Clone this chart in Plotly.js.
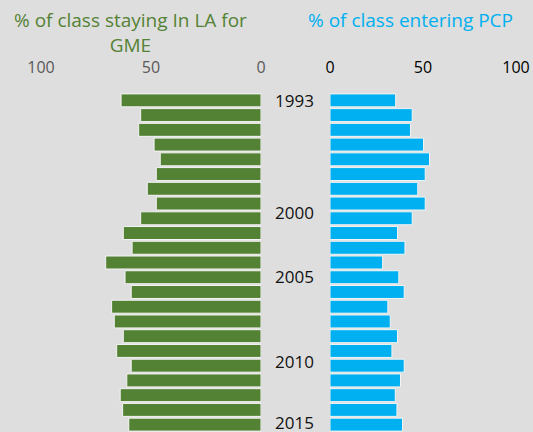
<!DOCTYPE html>
<html>
<head>
<meta charset="utf-8">
<script src="https://cdn.plot.ly/plotly-3.0.1.min.js"></script>
<style>html,body{margin:0;padding:0;background:#dedede;}#chart{width:533px;height:432px;}</style>
</head>
<body>
<div id="chart"></div>
<script>
const years = [1993,1994,1995,1996,1997,1998,1999,2000,2001,2002,2003,2004,2005,2006,2007,2008,2009,2010,2011,2012,2013,2014,2015];
const stayingLA = [63.6,54.7,55.6,48.6,45.8,47.6,51.7,47.6,54.7,62.6,58.6,70.6,61.8,59.0,67.9,66.7,62.6,65.6,59.0,61.0,64.0,62.9,60.1];
const enteringPCP = [35.3,44.2,43.3,50.3,53.5,51.2,47.2,51.2,44.2,36.3,40.3,28.3,37.0,39.9,31.1,32.4,36.3,33.3,39.9,37.9,35.1,36.0,39.0];
const yearLabels = ['1993','2000','2005','2010','2015'];
const yearLabelPos = [1993.0, 2000.64, 2004.98, 2010.75, 2014.85];
const tickVals = [0,50,100];
const tickText = ['0','50','100'];
const leftTitle = '% of class staying In LA for<br>GME';
const rightTitle = '% of class entering PCP';

const W = 533, H = 432;
const green = '#548235', blue = '#00b0f0', bg = '#dedede';
const fontFam = '"Open Sans", "Noto Sans", sans-serif';

const traces = [
  {type:'bar', orientation:'h', y: years, x: stayingLA, xaxis:'x', yaxis:'y',
   marker:{color:green, line:{color:'#f4f4f4', width:1}}, hoverinfo:'x+y'},
  {type:'bar', orientation:'h', y: years, x: enteringPCP, xaxis:'x2', yaxis:'y',
   marker:{color:blue, line:{color:'#f4f4f4', width:1}}, hoverinfo:'x+y'}
];

const annotations = yearLabels.map((t,i)=>({
  text:t, xref:'paper', yref:'y', x:294/W, y:yearLabelPos[i],
  xanchor:'center', yanchor:'middle', showarrow:false,
  font:{family:fontFam, size:17, color:'#111'}
}));
annotations.push({text:leftTitle, xref:'paper', yref:'paper', x:130/W, y:(432-32)/339,
  xanchor:'center', yanchor:'middle', showarrow:false, align:'center',
  font:{family:fontFam, size:19, color:green}});
annotations.push({text:rightTitle, xref:'paper', yref:'paper', x:410/W, y:(432-20)/339,
  xanchor:'center', yanchor:'middle', showarrow:false,
  font:{family:fontFam, size:19, color:blue}});

const layout = {
  width:W, height:H,
  margin:{l:0, r:0, t:93, b:0, pad:0},
  paper_bgcolor:bg, plot_bgcolor:bg,
  showlegend:false, bargap:0.12,
  xaxis:{domain:[41/W, 261/W], range:[100,0], side:'top', tickvals:tickVals, ticktext:tickText,
    showgrid:false, zeroline:false, showline:false, ticks:'outside', ticklen:13, tickcolor:'rgba(0,0,0,0)',
    tickfont:{family:fontFam, size:16, color:'#595959'}, anchor:'y', fixedrange:true},
  xaxis2:{domain:[330/W, 516/W], range:[0,100], side:'top', tickvals:tickVals, ticktext:tickText,
    showgrid:false, zeroline:false, showline:false, ticks:'outside', ticklen:13, tickcolor:'rgba(0,0,0,0)',
    tickfont:{family:fontFam, size:16, color:'#000'}, anchor:'y', fixedrange:true},
  yaxis:{range:[2015.5, 1992.5], showticklabels:false, showgrid:false, zeroline:false, showline:false, ticks:'', fixedrange:true},
  annotations: annotations
};

Plotly.newPlot('chart', traces, layout, {displayModeBar:false, staticPlot:true});
</script>
</body>
</html>
